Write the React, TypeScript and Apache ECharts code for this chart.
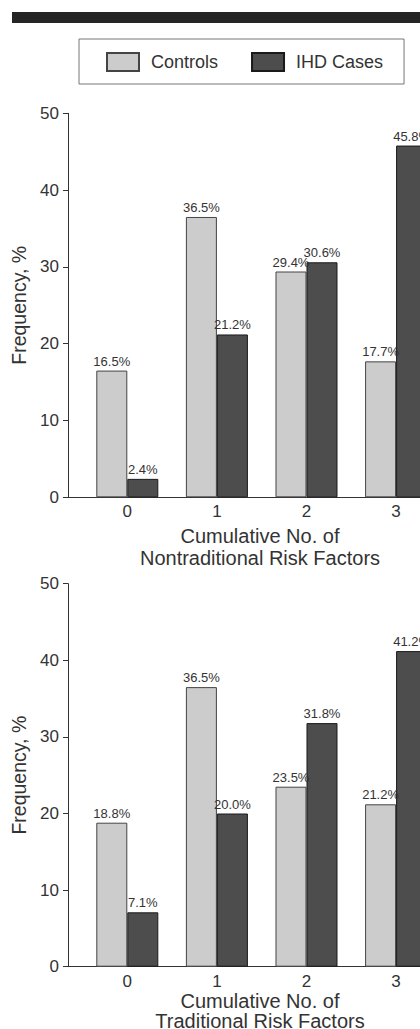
import React, { useEffect, useRef } from "react";
import * as echarts from "echarts";

const categories = [0, 1, 2, 3];
const seriesNames = ["Controls", "IHD Cases"];
const nontraditionalControls = [16.5, 36.5, 29.4, 17.7];
const nontraditionalIHD = [2.4, 21.2, 30.6, 45.8];
const traditionalControls = [18.8, 36.5, 23.5, 21.2];
const traditionalIHD = [7.1, 20.0, 31.8, 41.2];
const yTicks = { min: 0, max: 50, interval: 10 };
const xAxisNames = [
  "Cumulative No. of\nNontraditional Risk Factors",
  "Cumulative No. of\nTraditional Risk Factors",
];
const yAxisName = "Frequency, %";

const FONT = "Liberation Sans, Arial, sans-serif";
const TEXT = "#333";
const CONTROL_COLOR = "#cccccc";
const IHD_COLOR = "#4d4d4d";

export default function App() {
  const ref = useRef<HTMLDivElement>(null);
  useEffect(() => {
    if (!ref.current) return;
    const chart = echarts.init(ref.current, null, { renderer: "svg" });
    const toData = (vals: number[]) => categories.map((c, i) => [c, vals[i]]);
    const label = {
      show: true,
      position: "top",
      distance: 3,
      fontSize: 13,
      color: TEXT,
      fontFamily: FONT,
      formatter: (p: any) => p.value[1].toFixed(1) + "%",
    };
    const mkSeries = (name: string, vals: number[], idx: number, isCase: boolean) => ({
      type: "bar",
      name,
      xAxisIndex: idx,
      yAxisIndex: idx,
      data: toData(vals),
      barWidth: 31,
      barGap: "0%",
      itemStyle: {
        color: isCase ? IHD_COLOR : CONTROL_COLOR,
        borderColor: isCase ? "#1a1a1a" : "#444",
        borderWidth: 1,
      },
      label,
    });
    const xNameGaps = [28, 20];
    const xNameLineHeights = [21.5, 20.5];
    const xAxis = (idx: number) => ({
      type: "value",
      gridIndex: idx,
      min: -0.662,
      max: 3.624,
      name: xAxisNames[idx],
      nameLocation: "middle",
      nameGap: xNameGaps[idx],
      nameTextStyle: { fontSize: 20, color: TEXT, fontFamily: FONT, lineHeight: xNameLineHeights[idx] },
      axisLine: { onZero: false, lineStyle: { color: TEXT, width: 1 } },
      axisTick: { show: false },
      splitLine: { show: false },
      axisLabel: {
        customValues: categories,
        fontSize: 17,
        color: TEXT,
        fontFamily: FONT,
        margin: 6,
      },
    });
    const yAxis = (idx: number) => ({
      type: "value",
      gridIndex: idx,
      min: yTicks.min,
      max: yTicks.max,
      interval: yTicks.interval,
      name: yAxisName,
      nameLocation: "middle",
      nameGap: 28,
      nameTextStyle: { fontSize: 19.5, color: TEXT, fontFamily: FONT },
      axisLine: { show: true, onZero: false, lineStyle: { color: TEXT, width: 1 } },
      axisTick: { show: true, length: 5, lineStyle: { color: TEXT } },
      splitLine: { show: false },
      axisLabel: { fontSize: 17, color: TEXT, fontFamily: FONT, margin: 9 },
    });
    chart.setOption({
      animation: false,
      backgroundColor: "#fff",
      graphic: [
        {
          type: "rect",
          shape: { x: 12, y: 12, width: 408, height: 11 },
          style: { fill: "#252525" },
        },
      ],
      legend: {
        data: seriesNames,
        left: 79,
        top: 39,
        orient: "horizontal",
        icon: "rect",
        padding: [13, 21, 12, 27],
        itemWidth: 32,
        itemHeight: 18,
        itemGap: 33,
        borderColor: "#777",
        borderWidth: 1,
        textStyle: { fontSize: 18, color: TEXT, fontFamily: FONT, padding: [0, 0, 0, 7] },
      },
      grid: [
        { left: 68, top: 113.3, width: 384, height: 384, containLabel: false, outerBoundsMode: "none" },
        { left: 68, top: 583.7, width: 384, height: 383, containLabel: false, outerBoundsMode: "none" },
      ],
      xAxis: [xAxis(0), xAxis(1)],
      yAxis: [yAxis(0), yAxis(1)],
      series: [
        mkSeries(seriesNames[0], nontraditionalControls, 0, false),
        mkSeries(seriesNames[1], nontraditionalIHD, 0, true),
        mkSeries(seriesNames[0], traditionalControls, 1, false),
        mkSeries(seriesNames[1], traditionalIHD, 1, true),
      ],
    });
    return () => chart.dispose();
  }, []);
  return (
    <div
      ref={ref}
      style={{ position: "absolute", left: 0, top: 0, width: 420, height: 1029 }}
    />
  );
}
